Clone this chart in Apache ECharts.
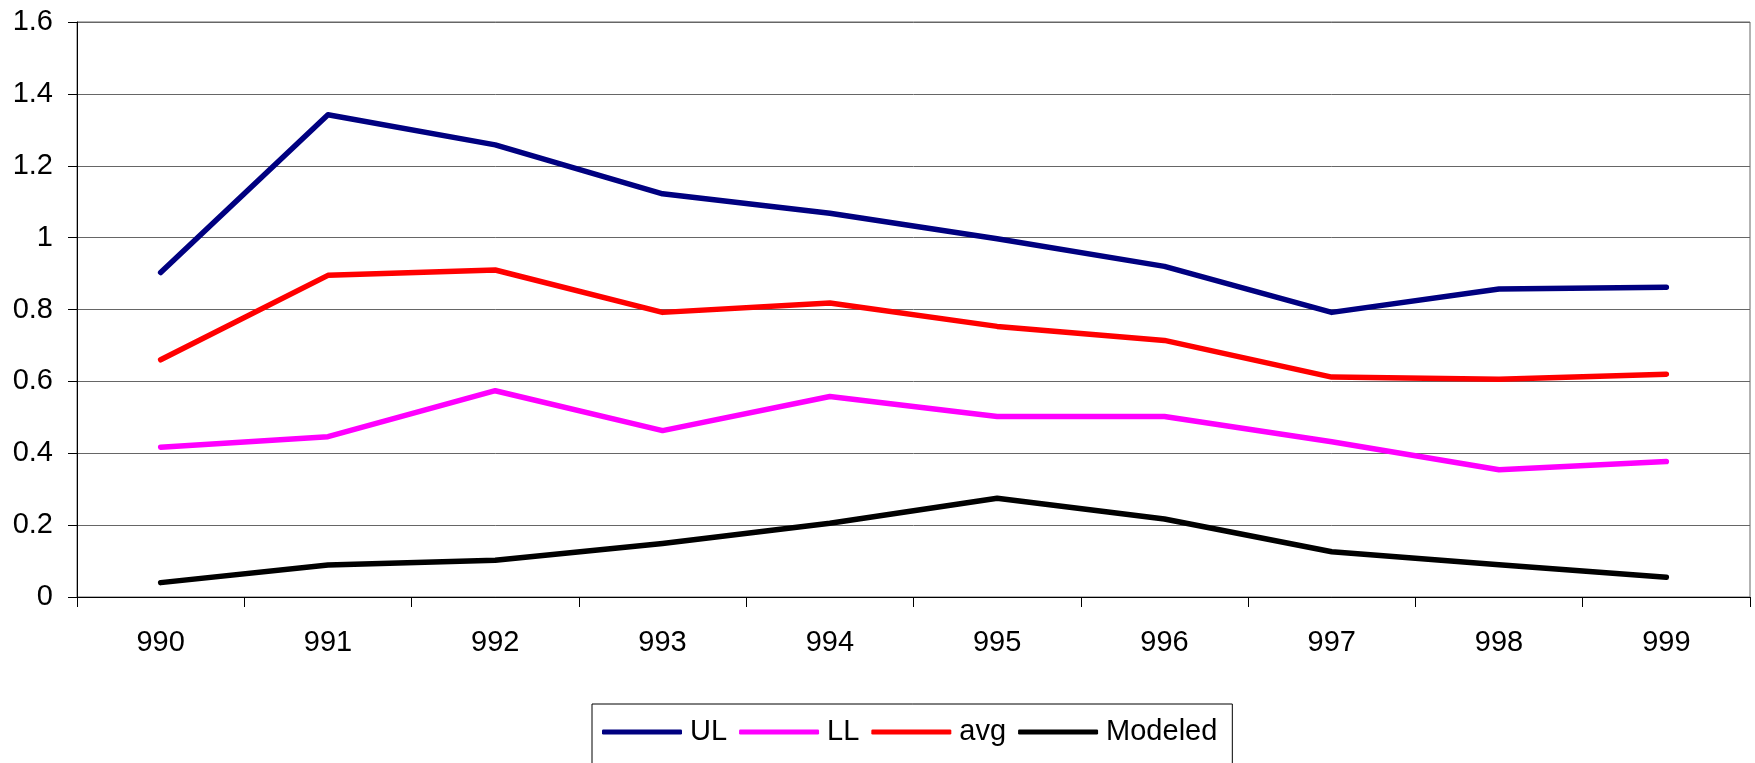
<!DOCTYPE html>
<html>
<head>
<meta charset="utf-8">
<script src="https://cdn.jsdelivr.net/npm/echarts@6/dist/echarts.min.js"></script>
<style>
  html, body { margin: 0; padding: 0; background: #fff; }
  #chart { width: 1755px; height: 763px; }
</style>
</head>
<body>
<div id="chart"></div>
<script>
// Categories along the x axis
const categories = ['990', '991', '992', '993', '994', '995', '996', '997', '998', '999'];

// Series values
const ulValues = [0.903, 1.342, 1.258, 1.122, 1.068, 0.997, 0.920, 0.792, 0.857, 0.862];
const llValues = [0.417, 0.446, 0.574, 0.463, 0.558, 0.502, 0.502, 0.432, 0.354, 0.377];
const avgValues = [0.660, 0.895, 0.910, 0.792, 0.818, 0.753, 0.714, 0.612, 0.606, 0.620];
const modeledValues = [0.040, 0.089, 0.102, 0.149, 0.205, 0.275, 0.217, 0.126, 0.090, 0.055];

// Value axis range and step
const yMin = 0;
const yMax = 1.6;
const yStep = 0.2;

const seriesNames = ['UL', 'LL', 'avg', 'Modeled'];
const seriesColors = ['#000080', '#FF00FF', '#FF0000', '#000000'];

const axisFont = 'Arial, "Liberation Sans", sans-serif';

function lineSeries(name, data, color) {
  return {
    name: name,
    type: 'line',
    data: data,
    symbol: 'none',
    showSymbol: false,
    smooth: false,
    lineStyle: { color: color, width: 5.5, cap: 'round', join: 'round' },
    itemStyle: { color: color },
    emphasis: { disabled: true },
    animation: false
  };
}

const chart = echarts.init(document.getElementById('chart'), null, { renderer: 'canvas' });

chart.setOption({
  backgroundColor: '#ffffff',
  animation: false,
  grid: {
    left: 77,
    right: 5,
    top: 22,
    bottom: 166,
    show: true,
    borderColor: '#666666',
    borderWidth: 1,
    backgroundColor: 'transparent'
  },
  xAxis: {
    type: 'category',
    data: categories,
    boundaryGap: true,
    axisLine: { show: true, lineStyle: { color: '#000', width: 1 } },
    axisTick: { show: true, inside: false, length: 10, alignWithLabel: false, interval: 0,
                lineStyle: { color: '#000', width: 1 } },
    axisLabel: { show: true, interval: 0, margin: 31, color: '#000',
                 fontFamily: axisFont, fontSize: 29 },
    splitLine: { show: false }
  },
  yAxis: {
    type: 'value',
    min: yMin,
    max: yMax,
    interval: yStep,
    axisLine: { show: true, lineStyle: { color: '#000', width: 1 } },
    axisTick: { show: true, inside: false, length: 9, lineStyle: { color: '#000', width: 1 } },
    axisLabel: { show: true, margin: 24, color: '#000', fontFamily: axisFont, fontSize: 29,
                 formatter: function (v) { return String(Math.round(v * 10) / 10); } },
    splitLine: { show: true, lineStyle: { color: '#666666', width: 1 } }
  },
  legend: {
    show: true,
    left: 592,
    top: 704,
    orient: 'horizontal',
    padding: [13, 15, 22, 10],
    itemGap: 12,
    itemWidth: 80,
    itemHeight: 5,
    icon: 'roundRect',
    borderColor: '#000',
    borderWidth: 1,
    borderRadius: 0,
    backgroundColor: '#fff',
    selectedMode: false,
    textStyle: { color: '#000', fontFamily: axisFont, fontSize: 29, padding: [0, 0, 0, 3],
                 lineHeight: 30 },
    data: seriesNames.map(function (n, i) {
      return { name: n, itemStyle: { color: seriesColors[i] } };
    })
  },
  series: [
    lineSeries(seriesNames[0], ulValues, seriesColors[0]),
    lineSeries(seriesNames[1], llValues, seriesColors[1]),
    lineSeries(seriesNames[2], avgValues, seriesColors[2]),
    lineSeries(seriesNames[3], modeledValues, seriesColors[3])
  ]
});
</script>
</body>
</html>
